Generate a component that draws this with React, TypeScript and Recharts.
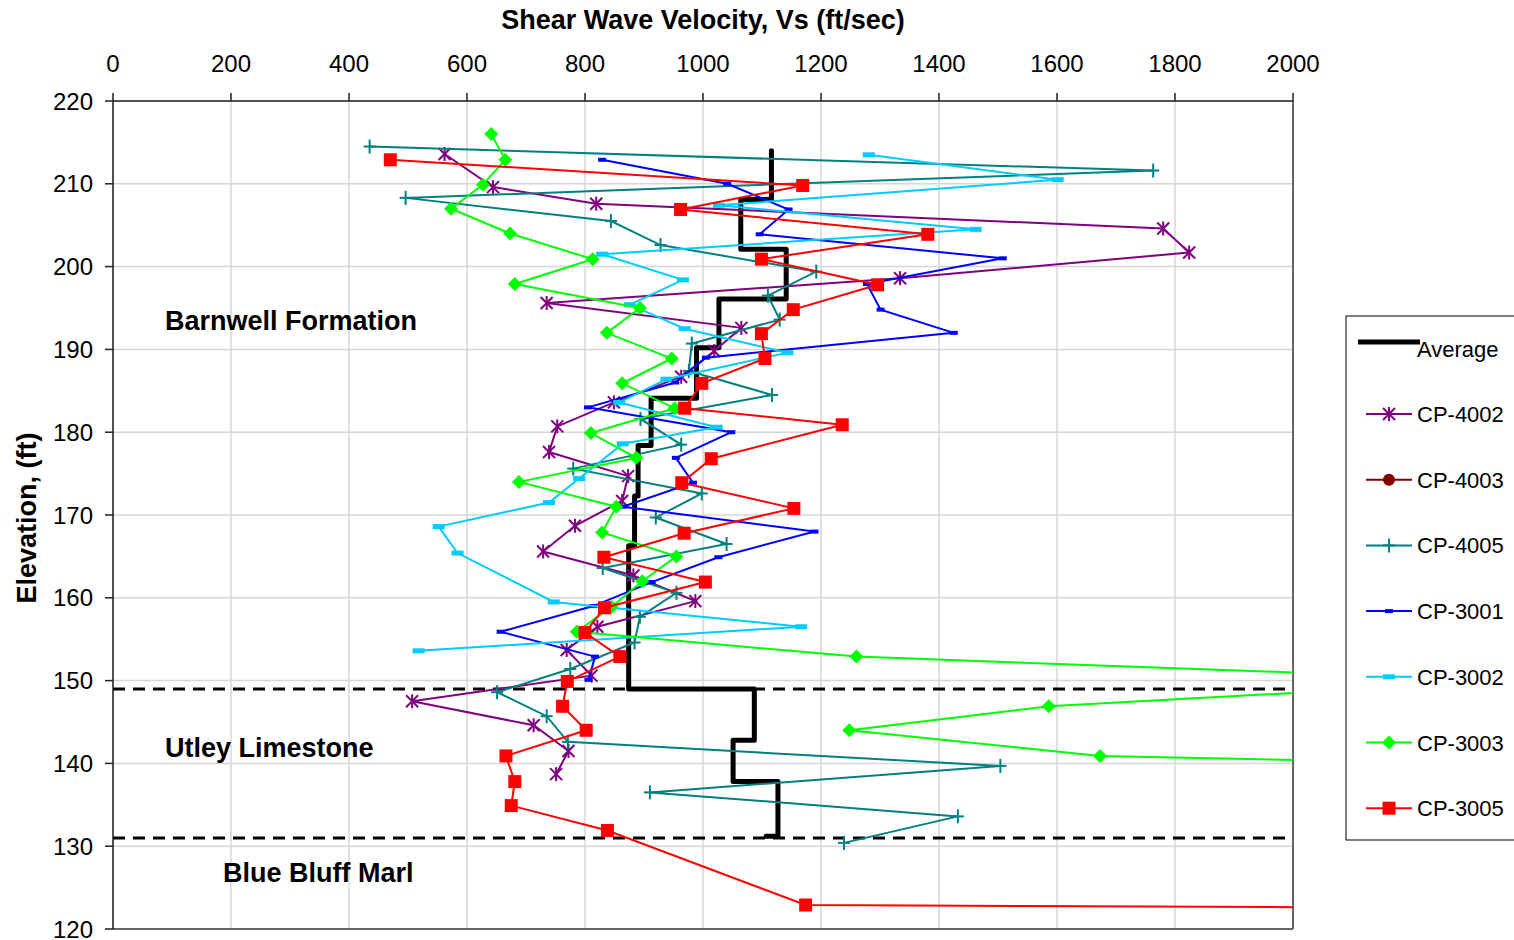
import { ScatterChart, Scatter, XAxis, YAxis, CartesianGrid, ReferenceLine } from 'recharts';

const velocityTicks = [0, 200, 400, 600, 800, 1000, 1200, 1400, 1600, 1800, 2000];
const elevationTicks = [120, 130, 140, 150, 160, 170, 180, 190, 200, 210, 220];
const boundaryElevations = [149, 131];

// Average profile (step line)
const avgVs = [1116, 1116, 1064, 1064, 1141, 1141, 1027, 1027, 989, 989, 912, 912, 890, 890, 884, 884, 874, 874, 1087, 1087, 1051, 1051, 1127, 1127, 1107];
const avgElev = [214, 208.1, 208.1, 202.1, 202.1, 196.1, 196.1, 190.2, 190.2, 184.1, 184.1, 178.4, 178.4, 172.3, 172.3, 166.3, 166.3, 149, 149, 142.8, 142.8, 137.8, 137.8, 131.2, 131.2];

const cp4002Vs = [562, 644, 819, 1780, 1824, 1334, 735, 1065, 1019, 963, 849, 753, 739, 873, 863, 783, 729, 882, 987, 821, 769, 811, 507, 713, 772, 751];
const cp4002Elev = [213.6, 209.6, 207.6, 204.6, 201.7, 198.6, 195.6, 192.6, 189.8, 186.7, 183.6, 180.7, 177.6, 174.7, 171.7, 168.7, 165.6, 162.7, 159.6, 156.5, 153.7, 150.6, 147.5, 144.6, 141.5, 138.7];

const cp4005Vs = [435, 1763, 496, 844, 928, 1192, 1110, 1130, 981, 976, 1117, 894, 963, 780, 998, 920, 1040, 830, 955, 893, 884, 775, 651, 735, 771, 1504, 910, 1432, 1239];
const cp4005Elev = [214.5, 211.6, 208.3, 205.5, 202.6, 199.4, 196.5, 193.6, 190.7, 187.4, 184.5, 181.6, 178.5, 175.6, 172.6, 169.7, 166.5, 163.6, 160.6, 157.7, 154.6, 151.4, 148.6, 145.7, 142.6, 139.7, 136.5, 133.6, 130.4];

const cp3001Vs = [829, 1041, 1145, 1096, 1508, 1278, 1301, 1425, 1005, 953, 805, 1048, 954, 983, 864, 1189, 1026, 913, 814, 657, 817, 806];
const cp3001Elev = [212.9, 210, 206.9, 203.9, 201, 197.9, 194.8, 192, 189, 186, 183, 180, 176.9, 173.9, 171, 168, 164.9, 161.9, 159, 155.9, 152.9, 150.1];

const cp3002Vs = [1281, 1601, 1027, 1462, 829, 966, 876, 969, 1143, 938, 858, 1023, 864, 790, 739, 552, 584, 747, 1166, 518];
const cp3002Elev = [213.5, 210.5, 207.4, 204.5, 201.5, 198.4, 195.4, 192.5, 189.6, 186.4, 183.6, 180.6, 178.6, 174.4, 171.5, 168.6, 165.4, 159.5, 156.5, 153.6];

const cp3003Vs = [641, 665, 627, 573, 673, 813, 681, 893, 837, 947, 863, 952, 810, 887, 688, 853, 829, 955, 897, 845, 786, 1260, 2380, 1586, 1248, 1673, 3700];
const cp3003Elev = [216, 212.9, 209.9, 207, 204, 200.9, 197.9, 195, 192, 188.9, 185.9, 182.9, 179.9, 176.9, 174, 171, 167.9, 165, 162, 158.9, 155.9, 152.9, 150, 146.9, 144, 140.9, 137.9];

const cp3005Vs = [470, 1169, 962, 1381, 1099, 1296, 1153, 1099, 1105, 998, 969, 1236, 1014, 964, 1154, 968, 832, 1004, 833, 800, 859, 770, 762, 802, 666, 681, 675, 838, 1174, 10000];
const cp3005Elev = [212.9, 209.8, 206.9, 203.9, 200.9, 197.8, 194.8, 191.9, 188.9, 185.9, 182.9, 180.9, 176.8, 173.9, 170.8, 167.8, 164.9, 161.9, 158.8, 155.8, 152.9, 149.9, 146.9, 144, 140.9, 137.8, 134.9, 131.9, 122.9, 120.1];

const zip = (vs: number[], elev: number[]) => vs.map((v, i) => ({ vs: v, elev: elev[i] }));

const FONT = "'Liberation Sans', Arial, sans-serif";

// marker drawers, reused by the legend
const star = (cx: number, cy: number) => (
  <g stroke="#800080" strokeWidth={2}>
    <line x1={cx - 6} y1={cy - 6} x2={cx + 6} y2={cy + 6} />
    <line x1={cx - 6} y1={cy + 6} x2={cx + 6} y2={cy - 6} />
    <line x1={cx} y1={cy - 7} x2={cx} y2={cy + 7} />
  </g>
);
const circle = (cx: number, cy: number) => <circle cx={cx} cy={cy} r={6} fill="#800000" />;
const plus = (cx: number, cy: number) => (
  <g stroke="#008080" strokeWidth={2}>
    <line x1={cx - 6} y1={cy} x2={cx + 6} y2={cy} />
    <line x1={cx} y1={cy - 7} x2={cx} y2={cy + 7} />
  </g>
);
const smallDash = (cx: number, cy: number) => <rect x={cx - 4} y={cy - 2} width={8} height={4} fill="#0000ff" />;
const dash = (cx: number, cy: number) => <rect x={cx - 6} y={cy - 2.5} width={12} height={5} fill="#00ccff" />;
const diamond = (cx: number, cy: number) => (
  <polygon points={`${cx},${cy - 7} ${cx + 7},${cy} ${cx},${cy + 7} ${cx - 7},${cy}`} fill="#00ff00" />
);
const square = (cx: number, cy: number) => <rect x={cx - 6.5} y={cy - 6.5} width={13} height={13} fill="#ff0000" />;

const shapeOf = (fn: (cx: number, cy: number) => JSX.Element) => (p: any) =>
  p.cx == null || p.cy == null ? <g /> : fn(p.cx, p.cy);

const legendItems = [
  { name: 'CP-4002', color: '#800080', mark: star },
  { name: 'CP-4003', color: '#800000', mark: circle },
  { name: 'CP-4005', color: '#008080', mark: plus },
  { name: 'CP-3001', color: '#0000ff', mark: smallDash },
  { name: 'CP-3002', color: '#00ccff', mark: dash },
  { name: 'CP-3003', color: '#00ff00', mark: diamond },
  { name: 'CP-3005', color: '#ff0000', mark: square },
];

export default function App() {
  const tickStyle = { fill: '#000', fontSize: 24, fontFamily: FONT };
  const axisStroke = { stroke: '#222', strokeWidth: 1.5 };

  return (
    <div style={{ position: 'absolute', left: 0, top: 0, width: 1514, height: 940, overflow: 'hidden', background: '#fff' }}>
      <ScatterChart width={1514} height={940} margin={{ top: 61, right: 221, bottom: 11, left: 53 }}>
        <CartesianGrid stroke="#d6d6d6" strokeWidth={1.5} />
        <XAxis
          dataKey="vs"
          type="number"
          orientation="top"
          height={40}
          domain={[0, 2000]}
          ticks={velocityTicks}
          interval={0}
          allowDataOverflow
          tickLine={axisStroke}
          tickSize={8}
          tickMargin={21}
          tick={tickStyle}
          axisLine={axisStroke}
        />
        <YAxis
          dataKey="elev"
          type="number"
          width={60}
          domain={[120, 220]}
          ticks={elevationTicks}
          interval={0}
          allowDataOverflow
          tickLine={axisStroke}
          tickSize={8}
          tickMargin={12}
          tick={tickStyle}
          axisLine={axisStroke}
        />
        <ReferenceLine x={2000} stroke="#666" strokeWidth={2} />
        <ReferenceLine y={120} stroke="#666" strokeWidth={2} />

        <Scatter
          name="Average"
          data={zip(avgVs, avgElev)}
          line={{ stroke: '#000', strokeWidth: 5, strokeLinejoin: 'round', strokeLinecap: 'round' }}
          lineType="joint"
          shape={() => <g />}
          isAnimationActive={false}
        />
        <Scatter name="CP-4002" data={zip(cp4002Vs, cp4002Elev)} line={{ stroke: '#800080', strokeWidth: 2 }} lineType="joint" shape={shapeOf(star)} isAnimationActive={false} />
        <Scatter name="CP-4005" data={zip(cp4005Vs, cp4005Elev)} line={{ stroke: '#008080', strokeWidth: 2 }} lineType="joint" shape={shapeOf(plus)} isAnimationActive={false} />
        <Scatter name="CP-3001" data={zip(cp3001Vs, cp3001Elev)} line={{ stroke: '#0000ff', strokeWidth: 2 }} lineType="joint" shape={shapeOf(smallDash)} isAnimationActive={false} />
        <Scatter name="CP-3002" data={zip(cp3002Vs, cp3002Elev)} line={{ stroke: '#00ccff', strokeWidth: 2 }} lineType="joint" shape={shapeOf(dash)} isAnimationActive={false} />
        <Scatter name="CP-3003" data={zip(cp3003Vs, cp3003Elev)} line={{ stroke: '#00ff00', strokeWidth: 2 }} lineType="joint" shape={shapeOf(diamond)} isAnimationActive={false} />
        <Scatter name="CP-3005" data={zip(cp3005Vs, cp3005Elev)} line={{ stroke: '#ff0000', strokeWidth: 2 }} lineType="joint" shape={shapeOf(square)} isAnimationActive={false} />

        {boundaryElevations.map((e) => (
          <ReferenceLine key={e} y={e} stroke="#000" strokeWidth={3} strokeDasharray="12 8" />
        ))}
      </ScatterChart>

      <svg width={1514} height={940} style={{ position: 'absolute', left: 0, top: 0, pointerEvents: 'none' }} fontFamily={FONT}>
        <text x={703} y={29} textAnchor="middle" fontSize={27} fontWeight="bold">Shear Wave Velocity, Vs (ft/sec)</text>
        <text transform="translate(36,518) rotate(-90)" textAnchor="middle" fontSize={27} fontWeight="bold">Elevation, (ft)</text>

        <text x={165} y={330} fontSize={27} fontWeight="bold">Barnwell Formation</text>
        <text x={165} y={757} fontSize={27} fontWeight="bold">Utley Limestone</text>
        <text x={223} y={882} fontSize={27} fontWeight="bold">Blue Bluff Marl</text>

        <rect x={1346} y={316} width={200} height={524} fill="#fff" stroke="#000" strokeWidth={1} />
        <line x1={1358} y1={342} x2={1420} y2={342} stroke="#000" strokeWidth={5} />
        <text x={1417} y={357} fontSize={22}>Average</text>
        {legendItems.map((it, i) => {
          const cy = 414 + i * 65.7;
          return (
            <g key={it.name}>
              <line x1={1366} y1={cy} x2={1412} y2={cy} stroke={it.color} strokeWidth={2} />
              {it.mark(1389, cy)}
              <text x={1417} y={cy + 8} fontSize={22}>{it.name}</text>
            </g>
          );
        })}
      </svg>
    </div>
  );
}
